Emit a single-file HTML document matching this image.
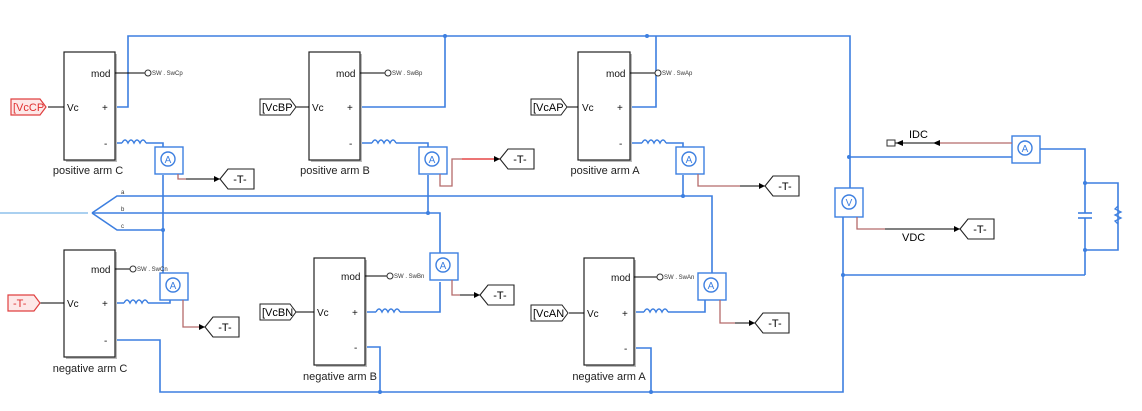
<!DOCTYPE html>
<html><head><style>
body{margin:0;background:#fff;}
svg{display:block;font-family:"Liberation Sans",sans-serif;}
.w{stroke:#3d7fe0;stroke-width:1.6;fill:none;}
.b{fill:#fff;stroke:#222;stroke-width:1.2;}
.s{fill:#fff;stroke:#3d7fe0;stroke-width:1.4;}
.r{stroke:#b56a6a;stroke-width:1.3;fill:none;}
.k{stroke:#000;stroke-width:1.1;fill:none;}
</style></head><body>
<svg width="1142" height="411" viewBox="0 0 1142 411" xmlns="http://www.w3.org/2000/svg">
<defs>
<g id="amm"><rect x="0" y="0" width="28" height="27" class="s"/><circle cx="13" cy="12" r="7" fill="#fff" stroke="#3d7fe0" stroke-width="1.4"/><text x="13" y="16" font-size="10" text-anchor="middle" fill="#3d7fe0">A</text></g>
<g id="tag"><path d="M0,10 L8,0 H34 V20 H8 Z" fill="#fff" stroke="#222" stroke-width="1.1"/><text x="20" y="14" font-size="11" text-anchor="middle">-T-</text><path d="M-6,7 L0,10 L-6,13 Z" fill="#000"/></g>
<g id="ind"><path d="M0,0 q3,-6 6,0 q3,-6 6,0 q3,-6 6,0 q3,-6 6,0" fill="none" stroke="#3d7fe0" stroke-width="1.4"/></g>
</defs>

<g class="w">
<path d="M115,107 H128 V36 H850 V188 M843,217 V392 H160 V340 H115"/>
<path d="M360,107 H445 V36"/>
<path d="M630,107 H656 V36"/>
<path d="M115,143 H122 M146,143 H163 V150"/>
<path d="M360,143 H372 M396,143 H428 V150"/>
<path d="M630,143 H642 M666,143 H683 V150"/>
<path d="M163,175 V273"/>
<path d="M428,175 V213"/>
<path d="M683,175 V196"/>
<path d="M92,213 L117,196 H712 V273"/>
<path d="M92,213 H428 H440 V253"/>
<path d="M92,213 L117,230 H163"/>
<path d="M365,347 H380 V392"/>
<path d="M633,348 H651 V392"/>
<path d="M115,303 H124 M148,303 H170 V300"/>
<path d="M365,312 H376 M400,312 H440 V282"/>
<path d="M633,312 H644 M668,312 H705 V300"/>
<path d="M850,157 H1012 M1040,149 H1085 V206 M1085,225 V275 M1085,183 H1118 V250 H1085 M843,275 H1085"/>
</g>
<line x1="0" y1="213" x2="88" y2="213" stroke="#8ec0ec" stroke-width="1.5"/>
<g fill="#3d7fe0">
<circle cx="445" cy="36" r="2"/><circle cx="647" cy="36" r="2"/><circle cx="849" cy="157" r="2"/><circle cx="843" cy="275" r="2"/>
<circle cx="428" cy="213" r="2"/><circle cx="683" cy="196" r="2"/><circle cx="163" cy="230" r="2"/>
<circle cx="380" cy="392" r="2"/><circle cx="651" cy="392" r="2"/><circle cx="1085" cy="183" r="2"/><circle cx="1085" cy="250" r="2"/>
</g>
<g font-size="6" fill="#333"><text x="121" y="194">a</text><text x="121" y="211">b</text><text x="121" y="228">c</text></g>

<use href="#ind" x="122" y="143"/><use href="#ind" x="372" y="143"/><use href="#ind" x="642" y="143"/>
<use href="#ind" x="124" y="303"/><use href="#ind" x="376" y="312"/><use href="#ind" x="644" y="312"/>

<g stroke="#3d7fe0" stroke-width="1.6"><line x1="1078" y1="213" x2="1092" y2="213"/><line x1="1078" y1="218" x2="1092" y2="218"/><line x1="1085" y1="206" x2="1085" y2="213"/><line x1="1085" y1="218" x2="1085" y2="225"/></g>
<path d="M1118,206 l-3,3 6,3 -6,3 6,3 -6,3 3,3" stroke="#3d7fe0" stroke-width="1.3" fill="none"/>

<g fill="#bbb">
<rect x="66" y="54" width="51" height="108"/><rect x="311" y="54" width="51" height="108"/><rect x="580" y="54" width="52" height="108"/>
<rect x="66" y="252" width="51" height="107"/><rect x="316" y="260" width="51" height="107"/><rect x="586" y="260" width="50" height="107"/>
</g>
<g class="b">
<rect x="64" y="52" width="51" height="108"/><rect x="309" y="52" width="51" height="108"/><rect x="578" y="52" width="52" height="108"/>
<rect x="64" y="250" width="51" height="107"/><rect x="314" y="258" width="51" height="107"/><rect x="584" y="258" width="50" height="107"/>
</g>
<g font-size="10" fill="#111">
<text x="91" y="77">mod</text><text x="67" y="111">Vc</text><text x="102" y="111">+</text><text x="104" y="147">-</text>
<text x="336" y="77">mod</text><text x="312" y="111">Vc</text><text x="347" y="111">+</text><text x="349" y="147">-</text>
<text x="606" y="77">mod</text><text x="582" y="111">Vc</text><text x="617" y="111">+</text><text x="619" y="147">-</text>
<text x="91" y="273">mod</text><text x="67" y="307">Vc</text><text x="102" y="307">+</text><text x="104" y="344">-</text>
<text x="341" y="280">mod</text><text x="317" y="316">Vc</text><text x="352" y="316">+</text><text x="354" y="351">-</text>
<text x="611" y="281">mod</text><text x="587" y="317">Vc</text><text x="622" y="317">+</text><text x="624" y="352">-</text>
</g>
<g font-size="11" fill="#222" text-anchor="middle">
<text x="88" y="174">positive arm C</text><text x="335" y="174">positive arm B</text><text x="605" y="174">positive arm A</text>
<text x="90" y="372">negative arm C</text><text x="340" y="380">negative arm B</text><text x="609" y="380">negative arm A</text>
</g>

<g class="k">
<path d="M115,73 H145 M360,73 H385 M630,73 H655 M115,269 H130 M365,276 H387 M634,277 H657"/>
<path d="M48,107 H64 M295,107 H309 M565,107 H578 M38,303 H64 M295,312 H314 M569,313 H584"/>
</g>
<g fill="#fff" stroke="#333" stroke-width="1"><circle cx="148" cy="73" r="3"/><circle cx="388" cy="73" r="3"/><circle cx="658" cy="73" r="3"/><circle cx="133" cy="269" r="3"/><circle cx="390" cy="276" r="3"/><circle cx="660" cy="277" r="3"/></g>
<g font-size="6" fill="#333"><text x="152" y="75">SW . SwCp</text><text x="392" y="75">SW . SwBp</text><text x="662" y="75">SW . SwAp</text><text x="137" y="271">SW . SwCn</text><text x="394" y="278">SW . SwBn</text><text x="664" y="279">SW . SwAn</text></g>

<path d="M11,99 H40 L46,107 L40,115 H11 Z" fill="#fde8e8" stroke="#e04040" stroke-width="1.2"/><text x="13" y="111" font-size="11" fill="#e03030">[VcCP</text>
<path d="M260,99 H290 L296,107 L290,115 H260 Z" fill="#fff" stroke="#222"/><text x="262" y="111" font-size="11">[VcBP</text>
<path d="M531,99 H561 L567,107 L561,115 H531 Z" fill="#fff" stroke="#222"/><text x="533" y="111" font-size="11">[VcAP</text>
<path d="M8,295 H34 L40,303 L34,311 H8 Z" fill="#fde8e8" stroke="#e04040" stroke-width="1.2"/><text x="13" y="307" font-size="11" fill="#e03030">-T-</text>
<path d="M260,304 H290 L296,312 L290,320 H260 Z" fill="#fff" stroke="#222"/><text x="262" y="316" font-size="11">[VcBN</text>
<path d="M531,305 H562 L568,313 L562,321 H531 Z" fill="#fff" stroke="#222"/><text x="533" y="317" font-size="11">[VcAN</text>

<use href="#amm" x="155" y="147"/><use href="#amm" x="419" y="147"/><use href="#amm" x="676" y="147"/>
<use href="#amm" x="160" y="273"/><use href="#amm" x="430" y="253"/><use href="#amm" x="698" y="273"/>
<use href="#amm" x="1012" y="136"/>
<rect x="835" y="188" width="28" height="29" class="s"/><circle cx="849" cy="202" r="7" fill="#fff" stroke="#3d7fe0" stroke-width="1.4"/><text x="849" y="206" font-size="10" text-anchor="middle" fill="#3d7fe0">V</text>

<g class="r">
<path d="M178,174 V179 H186"/><path d="M440,174 V186 H452 V159 H462"/><path d="M698,174 V186 H740"/>
<path d="M183,300 V327 H200"/><path d="M452,280 V295 H460"/><path d="M720,300 V323 H735"/>
<path d="M1012,143 H940"/><path d="M857,217 V229 H885"/>
</g>
<path d="M462,159 H500" stroke="#e02020" stroke-width="1.3"/>
<g class="k"><path d="M186,179 H220 M200,327 H205 M460,295 H480 M735,323 H755 M740,186 H765 M885,229 H960 M940,143 H895"/></g>
<use href="#tag" x="220" y="169"/><use href="#tag" x="500" y="149"/><use href="#tag" x="765" y="176"/>
<use href="#tag" x="205" y="317"/><use href="#tag" x="480" y="285"/><use href="#tag" x="755" y="313"/>
<use href="#tag" x="960" y="219"/>
<path d="M903,140 L896,143 L903,146 Z M940,140 L933,143 L940,146 Z" fill="#000"/>
<path d="M887,140 h8 v6 h-8 z" fill="none" stroke="#333"/>
<text x="909" y="138" font-size="11">IDC</text><text x="902" y="241" font-size="11">VDC</text>
</svg>
</body></html>
